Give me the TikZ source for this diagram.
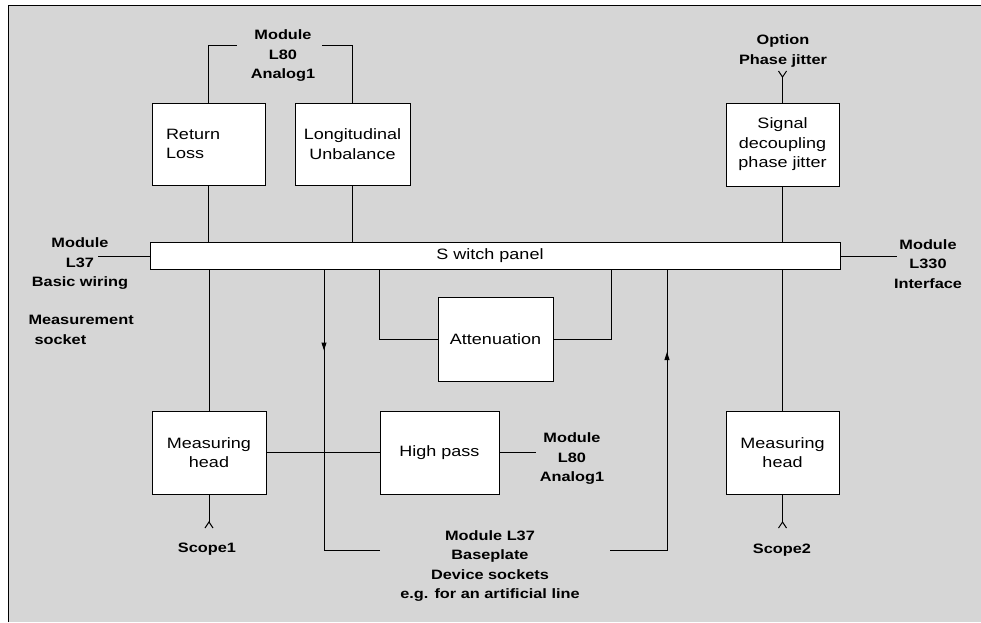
\documentclass[tikz,border=0pt]{standalone}
\usepackage{fontspec}
\setmainfont{Liberation Sans}[FakeStretch=1.2]
\usetikzlibrary{arrows.meta,decorations.markings}

\tikzset{jack/.pic={\draw (-4,6) -- (0,0) -- (4,6);}}

\begin{document}
\begin{tikzpicture}[x=1pt, y=-1pt, line width=1pt,
box/.style={draw, fill=white, inner sep=0pt, align=center,
  font=\fontsize{15}{19.5}\selectfont},
lbl/.style={align=center, inner sep=0pt,
  font=\fontsize{13.6}{19.5}\selectfont\bfseries},
arrowat/.style={postaction={decorate, decoration={markings,
  mark=at position #1 with {\arrow{Triangle[length=8pt,width=5pt]}}}}}]
\useasboundingbox (0,0) rectangle (981,622);
\fill[black!16] (8,5) rectangle (981,622);
\draw (8,622) -- (8,5) -- (981,5);

\node[box, minimum width=113pt, minimum height=82pt, text width=85pt, align=left] (rl) at (208.5,144) {Return\\Loss};
\node[box, minimum width=115pt, minimum height=82pt] (lu) at (352.5,144) {Longitudinal\\Unbalance};
\node[box, minimum width=113pt, minimum height=83pt] (sd) at (782.5,144.5) {Signal\\decoupling\\phase jitter};
\node[box, minimum width=690pt, minimum height=27pt] (sw) at (495,255.5) {S witch panel\hspace*{10pt}};
\node[box, minimum width=115pt, minimum height=84pt] (att) at (495.5,339) {Attenuation};
\node[box, minimum width=114pt, minimum height=83pt] (mh1) at (209,452.5) {Measuring\\head};
\node[box, minimum width=119pt, minimum height=83pt] (hp) at (439.5,452.5) {High pass};
\node[box, minimum width=113pt, minimum height=83pt] (mh2) at (782.5,452.5) {Measuring\\head};

\node[lbl] (l80a) at (283,56) {Module\\L80\\Analog1};
\node[lbl] (opt) at (783,51) {Option\\Phase jitter};
\node[lbl] (l37) at (80,264) {Module\\L37\\Basic wiring};
\node[lbl, align=left, anchor=west] (sock) at (28,330) {Measurement\\\hspace*{6pt}socket};
\node[lbl] (l330) at (928,264) {Module\\L330\\Interface};
\node[lbl] (l80b) at (572,459) {Module\\L80\\Analog1};
\node[lbl] (base) at (490,566) {Module L37\\Baseplate\\Device sockets\\e.g. for an artificial line};
\node[lbl] (sc1) at (207,549) {Scope1};
\node[lbl] (sc2) at (782,550) {Scope2};

\coordinate (tl) at (237,45); \coordinate (tr) at (322,45);
\coordinate (w37) at (98,256); \coordinate (e330) at (897,256);
\coordinate (hpe) at (536,452.5);
\coordinate (dnA) at (324,550); \coordinate (dnB) at (380,550);
\coordinate (upA) at (667,550); \coordinate (upB) at (610,550);
\coordinate (j1) at (782.5,77); \coordinate (j2) at (209,522); \coordinate (j3) at (782.5,522);

\draw (rl.north) |- (tl) (lu.north) |- (tr)
  (rl.south) -- (rl.south |- sw.north)
  (lu.south) -- (lu.south |- sw.north)
  (sd.south) -- (sd.south |- sw.north)
  (sd.north) -- (j1)
  (w37) -- (w37 -| sw.west)
  (e330 -| sw.east) -- (e330)
  (mh1.north |- sw.south) -- (mh1.north)
  (mh2.north |- sw.south) -- (mh2.north)
  (mh1) -- (hp) (hp.east) -- (hpe)
  (mh1.south) -- (j2) (mh2.south) -- (j3)
  (att.west) -| ([xshift=-58pt]att.west |- sw.south)
  (att.east) -| ([xshift=58pt]att.east |- sw.south);
\draw[arrowat=81pt] (dnA |- sw.south) -- (dnA) -- (dnB);
\draw[arrowat=255pt] (upB) -- (upA) -- (upA |- sw.south);
\pic[yscale=-1] at (j1) {jack};
\pic at (j2) {jack};
\pic at (j3) {jack};
\end{tikzpicture}
\end{document}
